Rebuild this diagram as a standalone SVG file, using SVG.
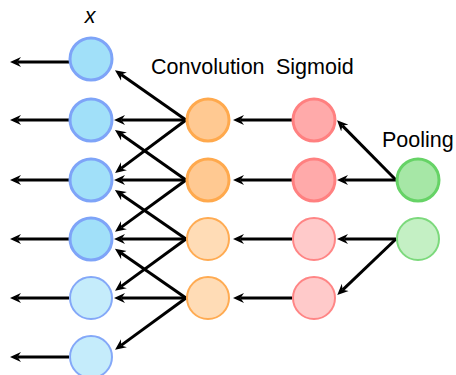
<svg xmlns="http://www.w3.org/2000/svg" width="456" height="375" viewBox="0 0 456 375">
<defs>
<marker id="ah" viewBox="0 0 11 11" markerWidth="11" markerHeight="11" refX="3.5" refY="5.5" orient="auto" markerUnits="userSpaceOnUse">
<path d="M11,5.5 L0,0.5 L3.5,5.5 L0,10.5 Z" fill="#000"/>
</marker>
<style>
.e{stroke:#000;stroke-width:3;fill:none;marker-end:url(#ah)}
.t{font-family:"Liberation Sans",Arial,sans-serif;font-size:21.5px;fill:#000}
.b1{fill:#a1e0f9;stroke:#7ea4f8;stroke-width:3}
.b2{fill:#c5ecfb;stroke:#84a8f8;stroke-width:2}
.o1{fill:#ffc992;stroke:#ffa94d;stroke-width:3}
.o2{fill:#ffdcb6;stroke:#ffab52;stroke-width:2}
.r1{fill:#ffaaaa;stroke:#ff8080;stroke-width:3}
.r2{fill:#ffcaca;stroke:#ff8585;stroke-width:2}
.g1{fill:#a6e7a6;stroke:#66d366;stroke-width:3}
.g2{fill:#c4f0c4;stroke:#7cd97c;stroke-width:2}
</style>
</defs>
<rect width="456" height="375" fill="#fff"/>
<g id="connectors">
<line class="e" x1="69" y1="62" x2="17.5" y2="62"/>
<line class="e" x1="69" y1="120" x2="17.5" y2="120"/>
<line class="e" x1="69" y1="180" x2="17.5" y2="180"/>
<line class="e" x1="69" y1="239" x2="17.5" y2="239"/>
<line class="e" x1="69" y1="298" x2="17.5" y2="298"/>
<line class="e" x1="69" y1="357" x2="17.5" y2="357"/>
<line class="e" x1="186" y1="120" x2="121.1" y2="74.6"/>
<line class="e" x1="186" y1="120" x2="121.5" y2="120"/>
<line class="e" x1="186" y1="120" x2="121.1" y2="168.4"/>
<line class="e" x1="186" y1="180" x2="121.1" y2="134.3"/>
<line class="e" x1="186" y1="180" x2="121.5" y2="180"/>
<line class="e" x1="186" y1="180" x2="121.1" y2="227.4"/>
<line class="e" x1="186" y1="239" x2="121.1" y2="194.2"/>
<line class="e" x1="186" y1="239" x2="121.5" y2="239"/>
<line class="e" x1="186" y1="239" x2="121.1" y2="286.4"/>
<line class="e" x1="186" y1="298" x2="121.1" y2="253.1"/>
<line class="e" x1="186" y1="298" x2="121.5" y2="298"/>
<line class="e" x1="186" y1="298" x2="121.1" y2="345.4"/>
<line class="e" x1="292" y1="120" x2="240.5" y2="120"/>
<line class="e" x1="292" y1="180" x2="240.5" y2="180"/>
<line class="e" x1="292" y1="239" x2="240.5" y2="239"/>
<line class="e" x1="292" y1="298" x2="240.5" y2="298"/>
<line class="e" x1="396" y1="180" x2="342.3" y2="125.6"/>
<line class="e" x1="396" y1="180" x2="344.5" y2="180"/>
<line class="e" x1="396" y1="239" x2="344.5" y2="239"/>
<line class="e" x1="396" y1="239" x2="342.7" y2="289.8"/>
</g>
<g id="blue0"><circle class="b1" cx="91" cy="59" r="21"/></g>
<g id="blue1"><circle class="b1" cx="91" cy="120" r="21"/></g>
<g id="blue2"><circle class="b1" cx="91" cy="180" r="21"/></g>
<g id="blue3"><circle class="b1" cx="91" cy="239" r="21"/></g>
<g id="blue4"><circle class="b2" cx="91" cy="298" r="21"/></g>
<g id="blue5"><circle class="b2" cx="91" cy="357" r="21"/></g>
<g id="orange0"><circle class="o1" cx="208" cy="120" r="21"/></g>
<g id="orange1"><circle class="o1" cx="208" cy="180" r="21"/></g>
<g id="orange2"><circle class="o2" cx="208" cy="239" r="21"/></g>
<g id="orange3"><circle class="o2" cx="208" cy="298" r="21"/></g>
<g id="red0"><circle class="r1" cx="314" cy="120" r="21"/></g>
<g id="red1"><circle class="r1" cx="314" cy="180" r="21"/></g>
<g id="red2"><circle class="r2" cx="314" cy="239" r="21"/></g>
<g id="red3"><circle class="r2" cx="314" cy="298" r="21"/></g>
<g id="green0"><circle class="g1" cx="418" cy="180" r="21"/></g>
<g id="green1"><circle class="g2" cx="418" cy="239" r="21"/></g>
<g id="labels">
<text class="t" x="90" y="23" text-anchor="middle" font-style="italic">x</text>
<text class="t" x="151" y="74">Convolution</text>
<text class="t" x="276" y="74">Sigmoid</text>
<text class="t" x="382" y="147">Pooling</text>
</g>
</svg>
